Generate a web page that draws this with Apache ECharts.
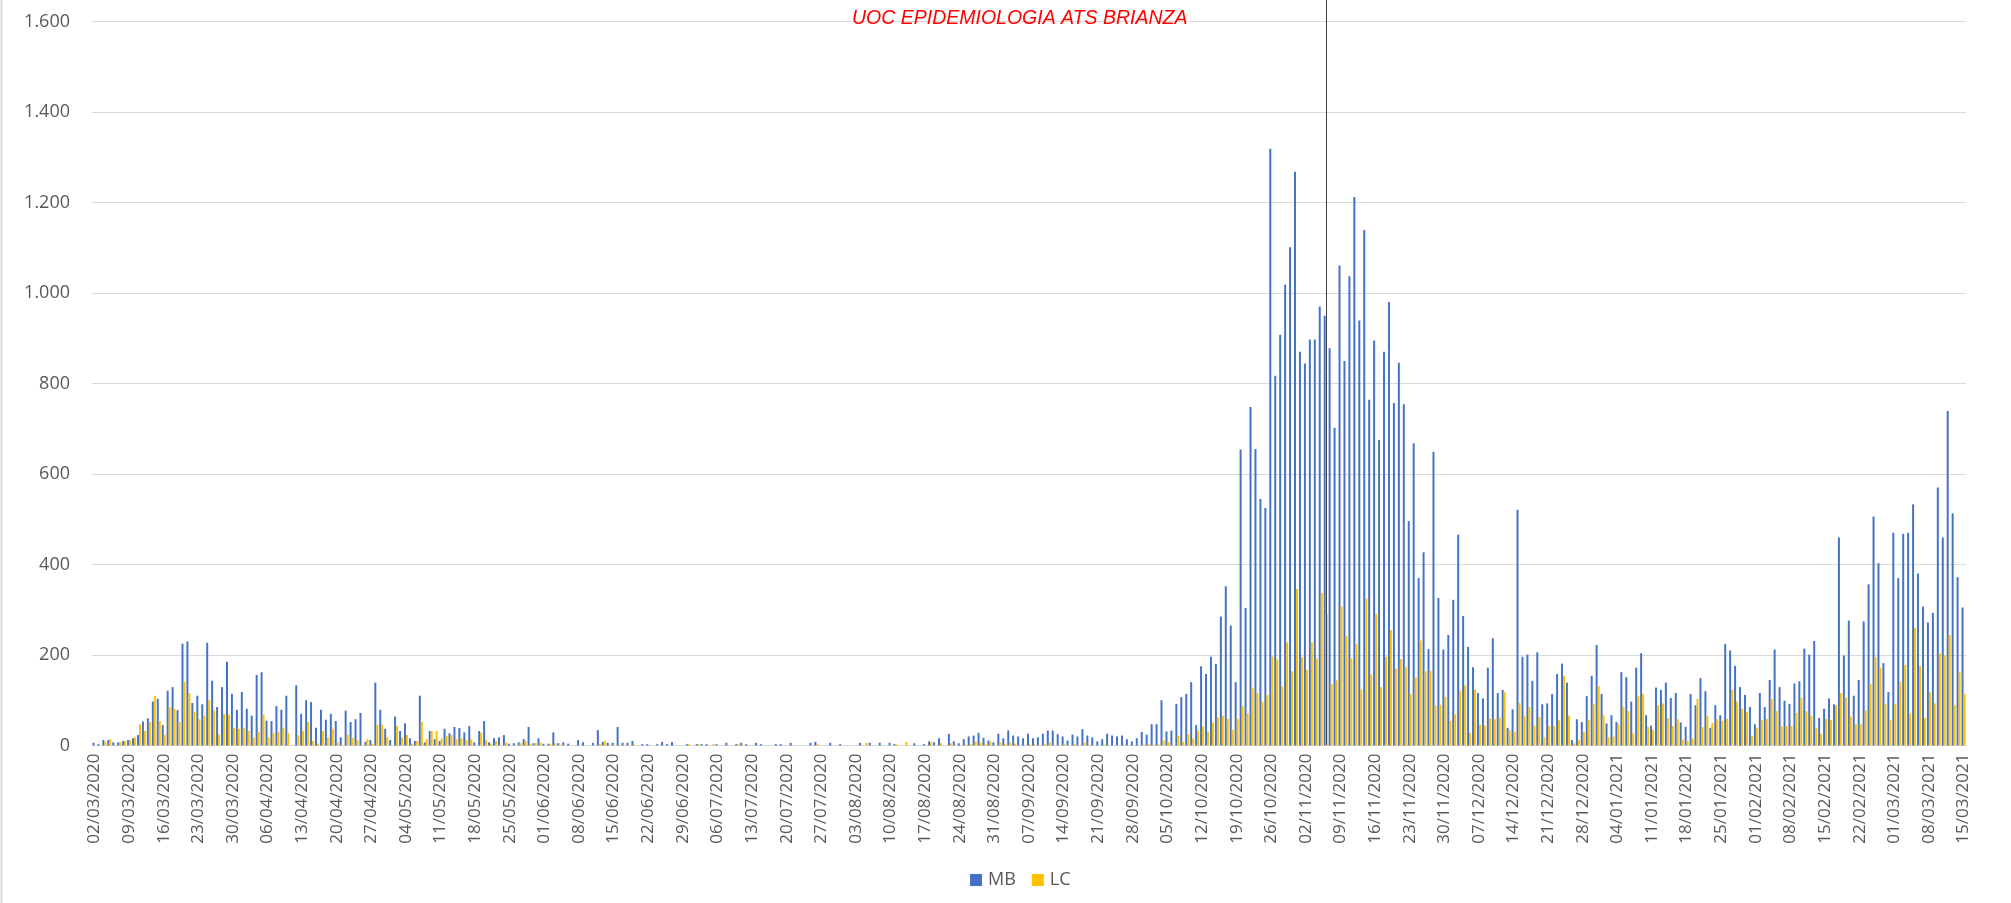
<!DOCTYPE html>
<html>
<head>
<meta charset="utf-8">
<script src="https://cdn.jsdelivr.net/npm/echarts@6/dist/echarts.min.js"></script>
<style>
html, body { margin: 0; padding: 0; background: #fff; }
#chart { width: 2011px; height: 903px; }
</style>
</head>
<body>
<div id="chart"></div>
<script>
// daily values, from 02/03/2020 to 15/03/2021
const startDay = Date.UTC(2020, 2, 2)
const dayCount = 379

const mb = [
  6, 3, 12, 12, 7, 7, 10, 12, 16, 23,
  53, 60, 97, 103, 45, 121, 129, 78, 225, 230,
  94, 110, 91, 227, 143, 85, 129, 185, 114, 79,
  118, 81, 66, 156, 162, 55, 54, 87, 79, 110,
  0, 133, 70, 100, 96, 39, 79, 57, 70, 54,
  18, 77, 52, 58, 72, 8, 12, 139, 79, 37,
  12, 64, 32, 49, 16, 10, 110, 7, 32, 14,
  10, 37, 27, 41, 39, 29, 43, 7, 32, 54,
  7, 16, 18, 23, 4, 5, 7, 14, 41, 5,
  16, 4, 4, 29, 5, 7, 4, 0, 12, 7,
  0, 6, 34, 8, 6, 6, 41, 6, 6, 10,
  0, 3, 3, 0, 3, 8, 3, 8, 0, 0,
  3, 0, 3, 3, 3, 0, 3, 0, 6, 0,
  3, 6, 3, 0, 6, 3, 0, 0, 3, 3,
  0, 6, 0, 0, 0, 6, 8, 0, 0, 6,
  0, 3, 0, 0, 0, 6, 0, 6, 0, 6,
  0, 6, 3, 0, 0, 0, 5, 0, 3, 9,
  7, 16, 0, 26, 9, 5, 14, 20, 22, 28,
  17, 11, 7, 26, 16, 33, 22, 20, 16, 26,
  16, 18, 26, 33, 33, 25, 20, 11, 24, 20,
  36, 22, 18, 9, 14, 26, 22, 20, 22, 14,
  9, 16, 30, 24, 47, 47, 100, 31, 33, 92,
  107, 114, 140, 45, 175, 158, 196, 180, 285, 352,
  265, 140, 654, 304, 748, 655, 545, 525, 1319, 817,
  908, 1018, 1101, 1268, 870, 844, 897, 897, 970, 950,
  878, 702, 1061, 850, 1037, 1212, 939, 1139, 764, 895,
  675, 870, 980, 757, 846, 754, 496, 668, 370, 427,
  213, 649, 326, 212, 244, 322, 466, 286, 218, 173,
  116, 104, 172, 237, 116, 123, 39, 80, 521, 196,
  201, 143, 206, 91, 93, 114, 158, 181, 139, 12,
  58, 52, 109, 154, 222, 114, 49, 67, 52, 162,
  151, 97, 172, 204, 67, 44, 128, 123, 139, 105,
  116, 51, 41, 114, 89, 149, 120, 39, 89, 67,
  224, 210, 176, 129, 112, 85, 47, 116, 85, 145,
  212, 129, 99, 92, 137, 142, 214, 201, 231, 61,
  81, 104, 91, 460, 199, 276, 110, 145, 274, 356,
  506, 403, 182, 118, 470, 370, 468, 470, 533, 380,
  307, 272, 293, 570, 460, 739, 513, 372, 305
]

const lc = [
  0, 0, 8, 14, 0, 7, 10, 12, 18, 47,
  32, 52, 110, 54, 24, 85, 81, 52, 141, 116,
  74, 58, 66, 101, 77, 24, 70, 68, 39, 37,
  39, 32, 18, 30, 68, 18, 28, 30, 39, 28,
  0, 23, 32, 52, 10, 4, 32, 18, 37, 7,
  0, 24, 17, 12, 0, 14, 4, 46, 46, 18,
  0, 43, 18, 23, 4, 10, 52, 14, 32, 32,
  16, 21, 23, 14, 16, 12, 14, 0, 28, 12,
  4, 10, 0, 7, 0, 0, 5, 10, 4, 5,
  7, 0, 4, 5, 2, 0, 0, 0, 0, 0,
  0, 0, 3, 10, 2, 0, 2, 0, 0, 2,
  0, 0, 0, 0, 0, 0, 0, 0, 0, 0,
  3, 0, 3, 0, 0, 3, 0, 0, 0, 0,
  3, 0, 0, 0, 0, 0, 0, 0, 0, 0,
  0, 0, 0, 0, 0, 0, 3, 0, 0, 0,
  0, 0, 0, 0, 0, 0, 6, 0, 0, 0,
  0, 0, 3, 0, 8, 0, 0, 0, 0, 7,
  0, 5, 0, 5, 0, 0, 2, 3, 9, 7,
  3, 9, 0, 7, 3, 7, 4, 0, 0, 2,
  2, 0, 3, 7, 0, 0, 3, 0, 3, 0,
  7, 2, 0, 0, 2, 0, 0, 0, 2, 0,
  0, 0, 2, 3, 2, 2, 11, 8, 0, 22,
  8, 25, 15, 33, 42, 31, 51, 62, 66, 59,
  35, 59, 87, 71, 128, 116, 97, 112, 197, 190,
  131, 228, 164, 346, 195, 167, 228, 192, 337, 291,
  136, 144, 307, 242, 193, 224, 124, 325, 157, 291,
  129, 196, 255, 170, 191, 174, 114, 150, 232, 164,
  165, 88, 90, 107, 54, 69, 121, 133, 28, 123,
  46, 44, 60, 58, 62, 118, 34, 30, 94, 66,
  85, 44, 63, 18, 43, 43, 56, 154, 66, 5,
  13, 30, 56, 91, 131, 67, 18, 20, 47, 85,
  76, 27, 109, 114, 41, 34, 89, 93, 61, 43,
  58, 13, 10, 16, 103, 41, 66, 50, 58, 54,
  59, 123, 97, 81, 74, 21, 39, 56, 59, 103,
  76, 43, 43, 43, 72, 105, 76, 66, 39, 26,
  59, 56, 89, 116, 106, 64, 47, 47, 78, 136,
  195, 172, 91, 56, 92, 141, 178, 71, 260, 176,
  61, 118, 93, 204, 199, 244, 89, 162, 114
]

const markerDay = '06/11/2020'

const pad = (n) => (n < 10 ? '0' + n : '' + n)
const days = []
for (let i = 0; i < dayCount; i++) {
  const d = new Date(startDay + i * 86400000)
  days.push(pad(d.getUTCDate()) + '/' + pad(d.getUTCMonth() + 1) + '/' + d.getUTCFullYear())
}

const font = "'Open Sans', 'Noto Sans', sans-serif"
const myChart = echarts.init(document.getElementById('chart'))

const option = {
  animation: false,
  backgroundColor: '#fff',
  title: {
    text: 'UOC EPIDEMIOLOGIA ATS BRIANZA',
    left: 847,
    top: 4,
    textStyle: {
      color: '#ff0000',
      fontStyle: 'italic',
      fontWeight: 'normal',
      fontSize: 19.5,
      fontFamily: "'Liberation Sans', sans-serif"
    }
  },
  legend: {
    left: 965,
    top: 866,
    itemWidth: 12,
    itemHeight: 12,
    itemGap: 16,
    icon: 'rect',
    textStyle: { color: '#595959', fontSize: 18, fontFamily: font, padding: [0, 0, 0, 1] },
    data: ['MB', 'LC']
  },
  grid: {
    left: 92,
    right: 45,
    top: 21.5,
    bottom: 157.5
  },
  xAxis: {
    type: 'category',
    data: days,
    axisLine: { lineStyle: { color: '#d9d9d9', width: 1 } },
    axisTick: { show: false },
    axisLabel: {
      interval: 6,
      rotate: 90,
      color: '#595959',
      fontSize: 17,
      fontFamily: font,
      margin: 8
    }
  },
  yAxis: {
    type: 'value',
    min: 0,
    max: 1600,
    interval: 200,
    axisLine: { show: false },
    axisTick: { show: false },
    splitLine: { lineStyle: { color: '#d9d9d9', width: 1 } },
    axisLabel: {
      color: '#595959',
      fontSize: 18,
      fontFamily: font,
      margin: 22,
      formatter: (v) => String(v).replace(/\B(?=(\d{3})+(?!\d))/g, '.')
    }
  },
  series: [
    {
      name: 'MB',
      type: 'bar',
      data: mb,
      itemStyle: { color: '#4472C4' },
      barGap: '0%',
      barCategoryGap: '20%'
    },
    {
      name: 'LC',
      type: 'bar',
      data: lc,
      itemStyle: { color: '#FFC000' }
    }
  ]
}
myChart.setOption(option)

// thin marker line drawn over the chart at one day
const lineX = Math.round(myChart.convertToPixel({ xAxisIndex: 0 }, markerDay)) + 0.5
myChart.setOption({
  graphic: [
    {
      type: 'line',
      shape: { x1: lineX, y1: 0, x2: lineX, y2: 745 },
      style: { stroke: '#404040', lineWidth: 1 },
      z: 100
    },
    {
      type: 'line',
      shape: { x1: 1.5, y1: 0, x2: 1.5, y2: 903 },
      style: { stroke: '#d9d9d9', lineWidth: 2 },
      z: 100
    }
  ]
})
</script>
</body>
</html>
